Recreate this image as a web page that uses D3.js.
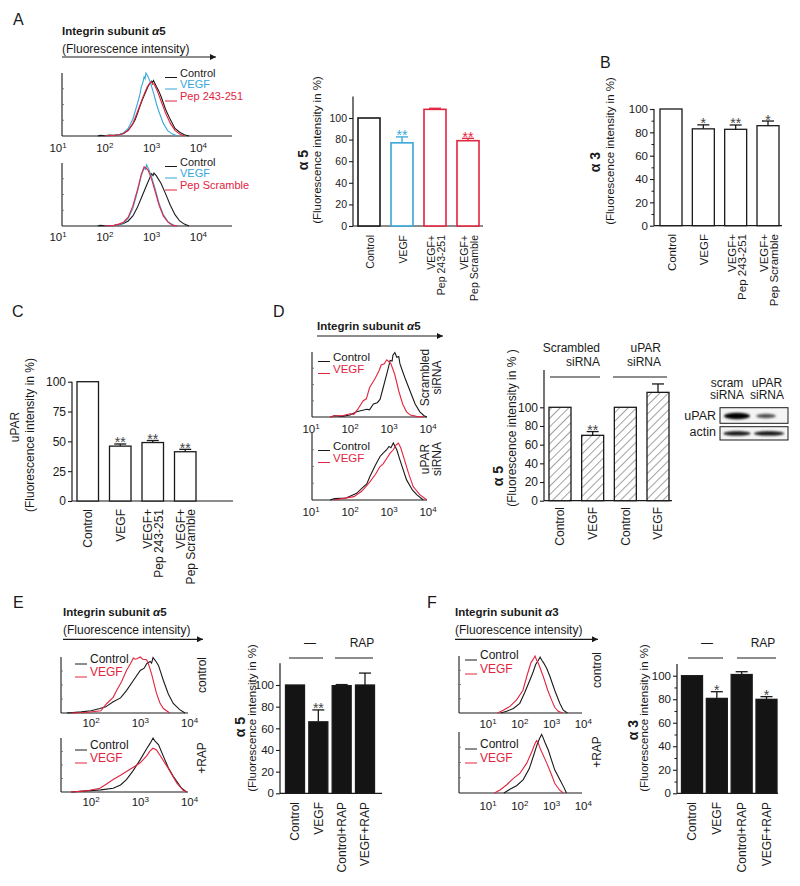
<!DOCTYPE html>
<html><head><meta charset="utf-8">
<script src="https://cdn.jsdelivr.net/npm/d3@7"></script>
<style>body{margin:0;background:#fff}svg{display:block}text{font-family:"Liberation Sans",Arial,Helvetica,sans-serif;fill:#1a1a1a}</style>
</head><body><svg id="c" width="800" height="886"></svg>
<script>
// ---------------- DATA ----------------
const groupsABC = ["Control", "VEGF", "VEGF+\nPep 243-251", "VEGF+\nPep Scramble"];
const alpha5A = [100, 77, 108, 79];
const alpha5AErr = [0, 5.5, 1, 2.2];
const alpha5ASig = ["", "**", "", "**"];
const alpha3B = [100, 83, 82.6, 85.7];
const alpha3BErr = [0, 3.4, 3.7, 4];
const alpha3BSig = ["", "*", "**", "*"];
const uparC = [100, 46, 49, 41.3];
const uparCErr = [0, 1.8, 1.7, 2];
const uparCSig = ["", "**", "**", "**"];
const groupsD = ["Control", "VEGF", "Control", "VEGF"];
const alpha5D = [100, 70, 100, 116];
const alpha5DErr = [0, 4, 0, 9];
const alpha5DSig = ["", "**", "", ""];
const groupsEF = ["Control", "VEGF", "Control+RAP", "VEGF+RAP"];
const alpha5E = [100, 66, 99.4, 100];
const alpha5EErr = [0, 11, 1, 11];
const alpha5ESig = ["", "**", "", ""];
const alpha3F = [100, 80.7, 101, 79.9];
const alpha3FErr = [0, 5.7, 2.4, 2.3];
const alpha3FSig = ["", "*", "", "*"];
const ticks20 = [0, 20, 40, 60, 80, 100];
const ticks25 = [0, 25, 50, 75, 100];
const minor10 = [10, 30, 50, 70, 90];
const decades = [1, 2, 3, 4];
const decadesE = [2, 3, 4];
const legendA1 = ["Control", "VEGF", "Pep 243-251"];
const legendA2 = ["Control", "VEGF", "Pep Scramble"];
const legend2 = ["Control", "VEGF"];
const blotLanes = ["scram\nsiRNA", "uPAR\nsiRNA"];
const blotRows = ["uPAR", "actin"];
const blotUPAR = [1.0, 0.6];
const blotActin = [0.95, 0.95];

// histogram curves: [log10(fluorescence), % of max count]
const ctrlA1 = [[1.85,0],[1.9,1],[2.0,0.5],[2.1,1.5],[2.2,1],[2.3,2],[2.4,4],[2.5,9],[2.6,19],[2.65,26],[2.7,36],[2.75,47],[2.8,57],[2.88,71],[2.92,78],[2.95,82],[3.0,87],[3.02,85],[3.04,88],[3.1,79],[3.15,72],[3.2,63],[3.3,42],[3.4,26],[3.45,19],[3.5,12],[3.6,6],[3.7,2],[3.8,0]];
const vegfA1 = [[2.0,0],[2.2,1],[2.3,2],[2.4,5],[2.5,12],[2.6,27],[2.7,52],[2.75,66],[2.78,78],[2.81,84],[2.84,94],[2.86,91],[2.88,100],[2.92,95],[2.97,86],[3.05,66],[3.1,52],[3.15,40],[3.25,20],[3.35,8],[3.45,3],[3.55,0]];
const pepA1 = [[2.0,0],[2.2,1],[2.3,2],[2.4,4],[2.5,9],[2.6,20],[2.7,39],[2.8,59],[2.85,68],[2.9,77],[2.96,84],[3.0,86],[3.02,82],[3.05,83],[3.12,72],[3.2,56],[3.3,36],[3.4,20],[3.5,9],[3.6,3],[3.7,0]];
const ctrlA2 = [[1.85,0],[1.9,1],[2.0,0.5],[2.2,1],[2.3,2],[2.4,4],[2.5,8],[2.6,16],[2.7,30],[2.8,48],[2.9,66],[2.97,78],[3.0,83],[3.03,80],[3.05,84],[3.1,80],[3.2,68],[3.3,51],[3.4,33],[3.5,18],[3.6,8],[3.7,3],[3.8,0]];
const vegfA2 = [[2.0,0],[2.2,1],[2.3,2],[2.4,5],[2.5,12],[2.6,28],[2.7,55],[2.78,80],[2.84,92],[2.87,90],[2.89,97],[2.94,90],[3.0,78],[3.08,58],[3.16,36],[3.25,18],[3.35,7],[3.45,2],[3.55,0]];
const scrA2 = [[2.0,0],[2.2,1],[2.3,3],[2.4,6],[2.5,14],[2.6,32],[2.7,58],[2.78,82],[2.84,94],[2.88,92],[2.93,88],[3.0,74],[3.08,54],[3.16,33],[3.25,16],[3.35,6],[3.45,1],[3.55,0]];
const ctrlD1 = [[1.5,0],[1.6,2],[1.8,1],[2.0,3],[2.17,8],[2.3,10],[2.43,12],[2.5,11],[2.6,20],[2.7,22],[2.77,27],[2.85,45],[2.95,68],[3.03,87],[3.08,86],[3.1,95],[3.15,99],[3.2,92],[3.25,93],[3.28,82],[3.35,70],[3.41,60],[3.54,40],[3.67,20],[3.79,8],[3.9,2],[3.97,0]];
const vegfD1 = [[1.49,0],[1.6,2],[1.8,2],[2.0,5],[2.1,4],[2.2,12],[2.34,25],[2.42,28],[2.5,45],[2.65,60],[2.75,72],[2.8,80],[2.88,82],[2.94,88],[3.0,85],[3.05,82],[3.15,65],[3.25,40],[3.35,20],[3.45,8],[3.55,3],[3.7,1],[3.9,0]];
const ctrlD2 = [[1.49,0],[1.6,2],[1.9,3],[2.17,10],[2.35,20],[2.43,24],[2.51,35],[2.65,52],[2.77,65],[2.85,70],[2.94,75],[3.0,80],[3.05,78],[3.11,85],[3.2,75],[3.28,60],[3.45,30],[3.6,15],[3.71,8],[3.88,0]];
const vegfD2 = [[1.6,0],[1.8,2],[2.1,5],[2.3,13],[2.51,27],[2.65,38],[2.77,50],[2.85,54],[2.94,62],[3.03,70],[3.11,75],[3.18,82],[3.24,85],[3.3,78],[3.37,65],[3.5,40],[3.62,20],[3.79,8],[3.97,0]];
const ctrlE1 = [[1.51,0],[1.8,2],[2.0,4],[2.18,8],[2.3,11],[2.45,20],[2.6,27],[2.72,40],[2.86,58],[3.0,76],[3.08,80],[3.13,88],[3.2,92],[3.23,89],[3.26,99],[3.32,92],[3.37,85],[3.47,58],[3.57,34],[3.67,17],[3.8,6],[3.91,0]];
const vegfE1 = [[1.6,0],[1.9,1],[2.2,4],[2.32,17],[2.45,28],[2.52,40],[2.62,56],[2.72,76],[2.8,88],[2.86,98],[2.9,96],[2.93,97],[3.0,100],[3.05,96],[3.13,95],[3.18,84],[3.23,70],[3.33,35],[3.4,18],[3.47,8],[3.6,0]];
const ctrlE2 = [[1.6,0],[1.9,2],[2.2,4],[2.45,7],[2.6,13],[2.72,23],[2.86,40],[3.0,60],[3.13,80],[3.2,90],[3.26,100],[3.3,94],[3.37,88],[3.47,66],[3.57,45],[3.67,29],[3.84,7],[3.94,0]];
const vegfE2 = [[1.6,0],[1.9,2],[2.18,7],[2.3,14],[2.45,23],[2.6,31],[2.72,38],[2.86,46],[3.0,54],[3.13,67],[3.2,76],[3.26,81],[3.33,78],[3.4,68],[3.54,48],[3.74,17],[3.87,3],[3.95,0]];
const ctrlF1 = [[1.4,0],[1.59,3],[1.8,8],[2.0,17],[2.15,35],[2.32,58],[2.42,72],[2.5,85],[2.58,92],[2.64,98],[2.7,92],[2.75,88],[2.85,78],[2.95,64],[3.1,40],[3.26,17],[3.37,5],[3.5,0]];
const vegfF1 = [[1.3,0],[1.48,5],[1.7,12],[1.9,23],[2.1,40],[2.22,64],[2.35,88],[2.42,94],[2.48,100],[2.53,93],[2.6,85],[2.74,64],[2.88,40],[3.0,23],[3.1,10],[3.21,3],[3.35,0]];
const ctrlF2 = [[1.5,0],[1.69,6],[1.9,12],[2.11,22],[2.3,40],[2.42,59],[2.55,80],[2.63,90],[2.69,96],[2.74,90],[2.8,82],[2.9,70],[3.0,54],[3.1,38],[3.26,22],[3.4,8],[3.47,0]];
const vegfF2 = [[1.2,0],[1.38,5],[1.6,14],[1.8,24],[2.0,32],[2.22,49],[2.4,70],[2.47,80],[2.53,86],[2.58,82],[2.65,72],[2.85,49],[3.0,30],[3.1,16],[3.25,5],[3.37,0]];

// ---------------- DRAWING ----------------
const BLACK = "#1a1a1a", BLUE = "#37a6d9", RED = "#e2243f";
const svg = d3.select("#c");
const defs = svg.append("defs");
defs.append("marker").attr("id","arr").attr("viewBox","0 0 10 10").attr("refX",10).attr("refY",5)
  .attr("markerWidth",8).attr("markerHeight",6).attr("markerUnits","userSpaceOnUse").attr("orient","auto")
  .append("path").attr("d","M0,0L10,5L0,10z").attr("fill",BLACK);
const pat = defs.append("pattern").attr("id","hatch").attr("patternUnits","userSpaceOnUse")
  .attr("width",6).attr("height",6).attr("patternTransform","rotate(45)");
pat.append("rect").attr("width",6).attr("height",6).attr("fill","#fff");
pat.append("line").attr("x1",0).attr("y1",0).attr("x2",0).attr("y2",6).attr("stroke","#444").attr("stroke-width",1);
defs.append("filter").attr("id","blur").attr("x","-20%").attr("y","-50%").attr("width","140%").attr("height","200%")
  .append("feGaussianBlur").attr("stdDeviation",0.9);

function text(x, y, s, o = {}) {
  const t = svg.append("text").attr("x", x).attr("y", y).text(s)
    .attr("font-size", o.size || 12).attr("text-anchor", o.anchor || "start");
  if (o.bold) t.attr("font-weight", "bold");
  if (o.fill) t.style("fill", o.fill);
  return t;
}
function vtext(cx, cy, s, o = {}) {
  return svg.append("text").attr("transform", `translate(${cx},${cy}) rotate(-90)`)
    .attr("text-anchor", "middle").attr("dy", "0.35em").attr("font-size", o.size || 12)
    .attr("font-weight", o.bold ? "bold" : null).text(s);
}
function titleBlock(x, y1, label, sub, arrowEnd, arrowY, sub2) {
  const t = svg.append("text").attr("x", x).attr("y", y1).attr("font-size", 11.5).attr("font-weight", "bold");
  t.append("tspan").text(label + " ");
  t.append("tspan").attr("font-style", "italic").text("α");
  t.append("tspan").text(sub2 || "5");
  if (sub) text(x, y1 + 18, sub, { size: 12 });
  svg.append("line").attr("x1", x).attr("x2", arrowEnd).attr("y1", arrowY).attr("y2", arrowY)
    .attr("stroke", BLACK).attr("stroke-width", 1.2).attr("marker-end", "url(#arr)");
}

function barChart(o) {
  const g = svg.append("g");
  const n = o.vals.length;
  const step = (o.x1 - o.x0 - o.bw) / (n - 1);
  const x = d3.scaleBand().domain(d3.range(n)).range([o.x0, o.x1]).paddingInner(1 - o.bw / step).paddingOuter(0);
  const y = d3.scaleLinear().domain([0, 100]).range([o.y0, o.y100]);
  const ax = g.append("g").attr("transform", `translate(${o.ax},0)`)
    .call(d3.axisLeft(y).tickValues(o.ticks).tickSize(4).tickPadding(2));
  ax.select(".domain").remove();
  ax.selectAll("text").attr("font-size", o.tickFont).attr("font-family", null);
  ax.selectAll("line").attr("stroke", BLACK).attr("stroke-width", 1.1);
  if (o.minor) {
    const mx = g.append("g").attr("transform", `translate(${o.ax},0)`)
      .call(d3.axisLeft(y).tickValues(o.minor).tickSize(2.5).tickFormat(""));
    mx.select(".domain").remove();
    mx.selectAll("line").attr("stroke", BLACK);
  }
  g.append("line").attr("x1", o.ax).attr("x2", o.ax).attr("y1", y(0)).attr("y2", y(o.top)).attr("stroke", BLACK).attr("stroke-width", 1.2);
  g.append("line").attr("x1", o.ax).attr("x2", o.xEnd).attr("y1", y(0)).attr("y2", y(0)).attr("stroke", BLACK).attr("stroke-width", 1.2);
  o.vals.forEach((v, i) => {
    const col = o.colors ? o.colors[i] : BLACK;
    g.append("rect").attr("x", x(i)).attr("y", y(v)).attr("width", x.bandwidth()).attr("height", y(0) - y(v))
      .attr("fill", o.fill || "#fff").attr("stroke", col).attr("stroke-width", o.sw || 1.3);
    const cx = x(i) + x.bandwidth() / 2;
    const e = o.errs[i];
    if (e > 0) {
      g.append("line").attr("x1", cx).attr("x2", cx).attr("y1", y(v)).attr("y2", y(v + e)).attr("stroke", col).attr("stroke-width", 1.3);
      g.append("line").attr("x1", cx - o.cap).attr("x2", cx + o.cap).attr("y1", y(v + e)).attr("y2", y(v + e)).attr("stroke", col).attr("stroke-width", 1.3);
    }
    if (o.sig[i]) {
      g.append("text").attr("x", cx).attr("y", y(v + e) + 3.5).attr("text-anchor", "middle").attr("font-size", 14)
        .style("fill", o.sigColors ? o.sigColors[i] : "#444").text(o.sig[i]);
    }
    const lines = o.cats[i].split("\n");
    lines.forEach((l, j) => {
      g.append("text").attr("transform", `translate(${cx + (j - (lines.length - 1) / 2) * o.lineGap + (o.labOff || 0)},${o.catTop}) rotate(-90)`)
        .attr("text-anchor", "end").attr("dy", "0.35em").attr("font-size", o.catFont).text(l);
    });
  });
  return { x, y };
}

function hist(o) {
  const g = svg.append("g");
  const x = d3.scaleLog().domain([Math.pow(10, o.e0), Math.pow(10, o.e1)]).range([o.r0, o.r1]);
  const y = d3.scaleLinear().domain([0, 100]).range([o.base, o.top]);
  g.append("line").attr("x1", o.ax).attr("x2", o.ax).attr("y1", o.base).attr("y2", o.top).attr("stroke", BLACK).attr("stroke-width", 1.1);
  g.append("line").attr("x1", o.ax).attr("x2", o.xEnd).attr("y1", o.base).attr("y2", o.base).attr("stroke", BLACK).attr("stroke-width", 1.1);
  [25, 50, 75].forEach(v => g.append("line").attr("x1", o.ax).attr("x2", o.ax + 2).attr("y1", y(v)).attr("y2", y(v)).attr("stroke", "#666").attr("stroke-width", 0.8));
  o.ticks.forEach(e => {
    const t = g.append("text").attr("x", x(Math.pow(10, e))).attr("y", o.tickY).attr("text-anchor", "middle").attr("font-size", 11.5);
    t.append("tspan").text("10");
    t.append("tspan").attr("dy", "-0.5em").attr("font-size", 8).text(e);
  });
  const line = d3.line().x(d => x(Math.pow(10, d[0]))).y(d => y(d[1]));
  o.curves.forEach(c => g.append("path").attr("d", line(c.data)).attr("fill", "none").attr("stroke", c.color).attr("stroke-width", 1.1));
  o.legend.forEach((l, i) => {
    g.append("line").attr("x1", o.lx).attr("x2", o.lx + 12).attr("y1", o.ly[i] + 1).attr("y2", o.ly[i] + 1).attr("stroke", o.curves[i].color).attr("stroke-width", 1);
    g.append("text").attr("x", o.lx + 15).attr("y", o.ly[i]).attr("font-size", o.lsize || 11.5).style("fill", o.curves[i].color).text(l);
  });
}

// ---------- Panel A ----------
text(13, 25, "A", { size: 16 });
titleBlock(62, 35, "Integrin subunit", "(Fluorescence intensity)", 216, 57);
hist({ e0: 1, e1: 4, r0: 58, r1: 198.4, ax: 62, xEnd: 232, base: 136, top: 73, tickY: 151.5, ticks: decades,
  curves: [{ data: ctrlA1, color: BLACK }, { data: vegfA1, color: BLUE }, { data: pepA1, color: RED }],
  legend: legendA1, lx: 165, ly: [76.5, 88, 100], lsize: 11 });
hist({ e0: 1, e1: 4, r0: 58, r1: 198.4, ax: 62, xEnd: 232, base: 226, top: 163, tickY: 241, ticks: decades,
  curves: [{ data: ctrlA2, color: BLACK }, { data: vegfA2, color: BLUE }, { data: scrA2, color: RED }],
  legend: legendA2, lx: 165, ly: [165.5, 177, 189], lsize: 11 });
barChart({ cats: groupsABC, vals: alpha5A, errs: alpha5AErr, sig: alpha5ASig, colors: [BLACK, BLUE, RED, RED],
  sigColors: ["", BLUE, "", RED], x0: 358, x1: 479, bw: 22, y0: 226, y100: 118, ax: 353, top: 120, xEnd: 483,
  ticks: ticks20, tickFont: 10.5, catFont: 10.5, catTop: 235, lineGap: 10, labOff: 1, cap: 6, sw: 1.6 });
vtext(303, 160, "α 5", { size: 14, bold: true });
vtext(317, 150, "(Fluorescence intensity in %)", { size: 11.5 });

// ---------- Panel B ----------
text(600, 68, "B", { size: 16 });
barChart({ cats: groupsABC, vals: alpha3B, errs: alpha3BErr, sig: alpha3BSig,
  x0: 660, x1: 779, bw: 22, y0: 225.7, y100: 109, ax: 654, top: 100, xEnd: 782,
  ticks: ticks20, minor: minor10, tickFont: 11.5, catFont: 11.5, catTop: 234, lineGap: 10, labOff: 1, cap: 6 });
vtext(595, 162, "α 3", { size: 14, bold: true });
vtext(610, 151, "(Fluorescence intensity in %)", { size: 11.5 });

// ---------- Panel C ----------
text(12, 317, "C", { size: 16 });
barChart({ cats: groupsABC, vals: uparC, errs: uparCErr, sig: uparCSig,
  x0: 77, x1: 196, bw: 21.5, y0: 501, y100: 381.7, ax: 72, top: 100, xEnd: 233,
  ticks: ticks25, tickFont: 12, catFont: 12, catTop: 509, lineGap: 10.5, labOff: 0.5, cap: 6 });
vtext(15, 427, "uPAR", { size: 12 });
vtext(30, 435, "(Fluorescence intensity in %)", { size: 12 });

// ---------- Panel D ----------
text(273, 317, "D", { size: 16 });
titleBlock(317, 330, "Integrin subunit", null, 443, 336);
hist({ e0: 1, e1: 4, r0: 311, r1: 428, ax: 312, xEnd: 427, base: 417, top: 352, tickY: 432.5, ticks: decades,
  curves: [{ data: ctrlD1, color: BLACK }, { data: vegfD1, color: RED }],
  legend: legend2, lx: 318, ly: [360.5, 372.5] });
hist({ e0: 1, e1: 4, r0: 311, r1: 428, ax: 312, xEnd: 427, base: 500, top: 433, tickY: 516, ticks: decades,
  curves: [{ data: ctrlD2, color: BLACK }, { data: vegfD2, color: RED }],
  legend: legend2, lx: 318, ly: [449.5, 461.5] });
vtext(425, 377.5, "Scrambled"); vtext(437, 377.5, "siRNA");
vtext(425, 459, "uPAR"); vtext(437, 459, "siRNA");
barChart({ cats: groupsD, vals: alpha5D, errs: alpha5DErr, sig: alpha5DSig, fill: "url(#hatch)",
  x0: 549, x1: 669, bw: 22, y0: 500.7, y100: 407.3, ax: 544, top: 140, xEnd: 672,
  ticks: ticks20, tickFont: 12, catFont: 12, catTop: 507, lineGap: 10, cap: 6 });
text(600, 352, "Scrambled", { anchor: "end" }); text(600, 365.5, "siRNA", { anchor: "end" });
text(661, 352, "uPAR", { anchor: "end" }); text(661, 365.5, "siRNA", { anchor: "end" });
svg.append("line").attr("x1", 550).attr("x2", 600).attr("y1", 377).attr("y2", 377).attr("stroke", BLACK);
svg.append("line").attr("x1", 613).attr("x2", 667).attr("y1", 377).attr("y2", 377).attr("stroke", BLACK);
vtext(498, 476, "α 5", { size: 14, bold: true });
vtext(512, 428, "(Fluorescence intensity in % )", { size: 12 });

// western blot
blotLanes.forEach((l, i) => {
  const cx = [727, 767][i];
  l.split("\n").forEach((s, j) => text(cx, 386.5 + j * 12.5, s, { anchor: "middle", size: 12 }));
});
blotRows.forEach((r, i) => text(716, [419.5, 436][i], r, { anchor: "end", size: 12.5 }));
[[407.7, 423.3], [426.7, 440]].forEach(b => svg.append("rect").attr("x", 720).attr("y", b[0]).attr("width", 68).attr("height", b[1] - b[0])
  .attr("fill", "#f4f4f4").attr("stroke", BLACK).attr("stroke-width", 1));
blotUPAR.forEach((v, i) => {
  svg.append("ellipse").attr("cx", [737, 766][i]).attr("cy", 416).attr("rx", [13, 10][i]).attr("ry", 2.6 * v + 0.6)
    .attr("fill", d3.interpolateGreys(0.35 + 0.65 * v)).attr("filter", "url(#blur)");
});
blotActin.forEach((v, i) => {
  svg.append("ellipse").attr("cx", [737, 769][i]).attr("cy", 433.4).attr("rx", [13.5, 15][i]).attr("ry", 2.2 * v)
    .attr("fill", d3.interpolateGreys(0.35 + 0.65 * v)).attr("filter", "url(#blur)");
});

// ---------- Panel E ----------
text(13, 608, "E", { size: 16 });
titleBlock(63, 616, "Integrin subunit", "(Fluorescence intensity)", 203, 639.3);
hist({ e0: 2, e1: 4, r0: 91, r1: 189.5, ax: 61, xEnd: 188, base: 713, top: 657, tickY: 727, ticks: decadesE,
  curves: [{ data: ctrlE1, color: BLACK }, { data: vegfE1, color: RED }],
  legend: legend2, lx: 75, ly: [663, 676], lsize: 12 });
hist({ e0: 2, e1: 4, r0: 91, r1: 189.5, ax: 61, xEnd: 188, base: 792, top: 738, tickY: 806, ticks: decadesE,
  curves: [{ data: ctrlE2, color: BLACK }, { data: vegfE2, color: RED }],
  legend: legend2, lx: 75, ly: [749, 762], lsize: 12 });
vtext(202, 675, "control"); vtext(202, 758, "+RAP");
barChart({ cats: groupsEF, vals: alpha5E, errs: alpha5EErr, sig: alpha5ESig, fill: "#141414",
  x0: 285.5, x1: 374.5, bw: 19, y0: 793.3, y100: 685, ax: 280, top: 120, xEnd: 382,
  ticks: ticks20, tickFont: 11.5, catFont: 12, catTop: 802, lineGap: 10, cap: 6 });
text(310, 647, "—", { anchor: "middle" }); text(362, 647, "RAP", { anchor: "middle" });
svg.append("line").attr("x1", 289).attr("x2", 323).attr("y1", 658).attr("y2", 658).attr("stroke", BLACK);
svg.append("line").attr("x1", 335).attr("x2", 373).attr("y1", 658).attr("y2", 658).attr("stroke", BLACK);
vtext(240, 727, "α 5", { size: 14, bold: true });
vtext(252, 718, "(Fluorescence intensity in %)", { size: 11.5 });

// ---------- Panel F ----------
text(427, 608, "F", { size: 16 });
titleBlock(455, 616, "Integrin subunit", "(Fluorescence intensity)", 598, 639.3, "3");
hist({ e0: 1, e1: 4, r0: 488, r1: 583.3, ax: 459, xEnd: 582, base: 713, top: 656, tickY: 728, ticks: decades,
  curves: [{ data: ctrlF1, color: BLACK }, { data: vegfF1, color: RED }],
  legend: legend2, lx: 465, ly: [659, 673], lsize: 12 });
hist({ e0: 1, e1: 4, r0: 488, r1: 583.3, ax: 459, xEnd: 582, base: 793, top: 732, tickY: 810, ticks: decades,
  curves: [{ data: ctrlF2, color: BLACK }, { data: vegfF2, color: RED }],
  legend: legend2, lx: 465, ly: [748, 762], lsize: 12 });
vtext(597, 670, "control"); vtext(597, 752, "+RAP");
barChart({ cats: groupsEF, vals: alpha3F, errs: alpha3FErr, sig: alpha3FSig, fill: "#141414",
  x0: 681.5, x1: 777, bw: 21, y0: 793.3, y100: 675.7, ax: 677, top: 110, xEnd: 778,
  ticks: ticks20, minor: minor10, tickFont: 11.5, catFont: 12, catTop: 802, lineGap: 10, cap: 6 });
text(707, 647, "—", { anchor: "middle" }); text(763, 647, "RAP", { anchor: "middle" });
svg.append("line").attr("x1", 688).attr("x2", 723).attr("y1", 658).attr("y2", 658).attr("stroke", BLACK);
svg.append("line").attr("x1", 737).attr("x2", 776).attr("y1", 658).attr("y2", 658).attr("stroke", BLACK);
vtext(633, 730, "α 3", { size: 14, bold: true });
vtext(644, 718, "(Fluorescence intensity in %)", { size: 11.5 });
</script></body></html>
